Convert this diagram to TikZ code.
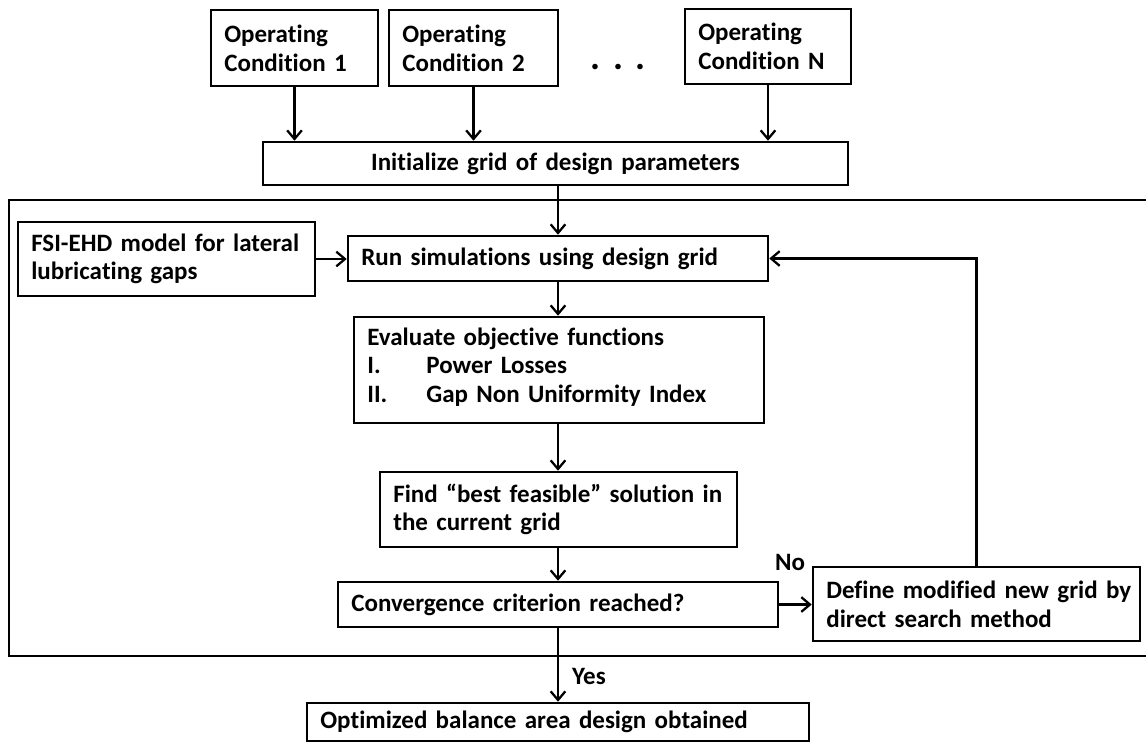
\documentclass[tikz,border=0pt]{standalone}
\usepackage{fontspec}
\setmainfont{Carlito}[Ligatures={NoCommon,NoContextual},RawFeature={-liga;-clig;-calt;-dlig}]
\usetikzlibrary{arrows.meta}
\begin{document}
\begin{tikzpicture}[x=0.75pt,y=-0.75pt,
  every node/.style={font=\fontsize{18.75}{21.5}\selectfont\bfseries, inner sep=0pt},
  box/.style={draw, line width=1.9pt, align=left, inner xsep=10pt, inner ysep=0pt},
  arr/.style={line width=1.7pt, -{Straight Barb[length=6.5pt,width=11pt]}},
  lbl/.style={font=\fontsize{18.75}{21.5}\selectfont\bfseries}]
\useasboundingbox (0,0) rectangle (1146,744);
% outer frame (right side cut off)
\draw[line width=2pt] (1146,200) -- (9,200) -- (9,656) -- (1146,656);
% operating conditions
\node[box, text width=105.25pt, minimum height=57pt] (oc1) at (294.5,48) {Opera\kern0ptting\\Condition 1};
\node[box, text width=106.75pt, minimum height=57pt] (oc2) at (473.5,48) {Opera\kern0ptting\\Condition 2};
\node[box, text width=104.5pt, minimum height=56.25pt] (ocn) at (768,46.5) {Opera\kern0ptting\\Condition N};
\node[font=\fontsize{28}{30}\selectfont\bfseries] (dots) at (618,67) {.\hspace{9.75pt}.\hspace{9.75pt}.};
% initialize
\node[box, align=center, text width=418.75pt, minimum height=32.25pt] (init) at (555.5,163.5) {Initialize grid of design parameters};
% inside frame
\node[box, text width=202.75pt, minimum height=55.5pt] (fsi) at (166.5,259) {FSI-EHD model for lateral\\lubrica\kern0ptting gaps};
\node[box, text width=295pt, minimum height=33.75pt] (run) at (558,258.5) {Run simula\kern0pttions using design grid};
\node[box, text width=287.5pt, minimum height=79.5pt] (eval) at (559,370) {Evaluate objec\kern0pttive func\kern0pttions\\\makebox[44.25pt][l]{I.}Power Losses\\\makebox[44.25pt][l]{II.}Gap Non Uniformity Index\\[-14pt]\mbox{}};
\node[box, text width=247.75pt, minimum height=56.25pt] (find) at (558.5,509.5) {\mbox{Find “best feasible” solu\kern0pttion in}\\the current grid};
\node[box, text width=310pt, minimum height=33.75pt] (conv) at (558,604.5) {Convergence criterion reached?};
\node[box, text width=225.25pt, minimum height=55.5pt] (def) at (976.5,604) {\mbox{Define modified new grid by}\\direct search method};
\node[box, text width=356.5pt, minimum height=28.5pt] (opt) at (558,722) {Op\kern0ptti\kern0ptmized balance area design obtained};
% labels
\node[lbl] (no) at (790,562) {No};
\node[lbl] (yes) at (589,676) {Yes};
% connectors
\draw[arr] (oc1.south) -- (oc1.south |- init.north);
\draw[arr] (oc2.south) -- (oc2.south |- init.north);
\draw[arr] (ocn.south) -- (ocn.south |- init.north);
\draw[arr] (run.north |- init.south) -- (run.north);
\draw[arr] (fsi.east) -- (fsi.east -| run.west);
\draw[arr] (run.south) -- (run.south |- eval.north);
\draw[arr] (eval.south -| run.south) -- (run.south |- find.north);
\draw[arr] (find.south -| run.south) -- (run.south |- conv.north);
\draw[arr] (conv.east) -- (conv.east -| def.west);
\draw[arr] (def.north) |- (run.east);
\draw[arr] (conv.south) -- (conv.south |- opt.north);
\end{tikzpicture}
\end{document}
